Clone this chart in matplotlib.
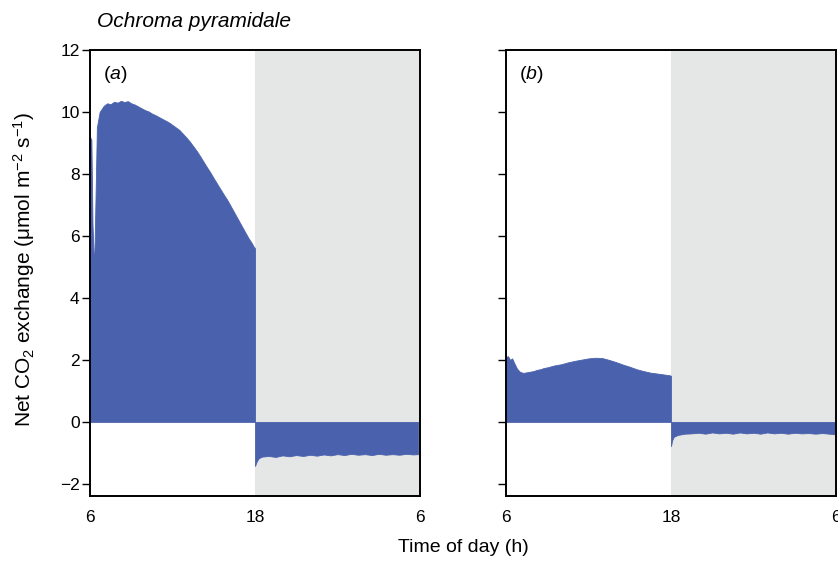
import numpy as np
import matplotlib
matplotlib.use("Agg")
import matplotlib.pyplot as plt

plt.rcParams["font.family"] = ["Liberation Sans", "DejaVu Sans"]
plt.rcParams["mathtext.fontset"] = "custom"
plt.rcParams["mathtext.rm"] = "Liberation Sans"
plt.rcParams["mathtext.it"] = "Liberation Sans:italic"

# ── data ──────────────────────────────────────────────────────────────────────
# panel (a): light period 06-18 h
a_day_h = [6.0, 6.1, 6.18, 6.3, 6.4, 6.5, 6.7, 7.0, 7.25, 7.5, 7.75, 8.0, 8.25,
           8.5, 8.75, 9.0, 9.25, 9.5, 9.75, 10.0, 10.25, 10.5, 10.75, 11.0,
           11.25, 11.5, 11.75, 12.0, 12.25, 12.5, 12.75, 13.0, 13.25, 13.5,
           13.75, 14.0, 14.25, 14.5, 14.75, 15.0, 15.25, 15.5, 15.75, 16.0,
           16.25, 16.5, 16.75, 17.0, 17.25, 17.5, 17.75, 17.9, 18.0]
a_day_v = [9.2, 9.1, 6.4, 4.9, 7.2, 9.5, 10.0, 10.2, 10.28, 10.25, 10.33, 10.3,
           10.36, 10.32, 10.35, 10.28, 10.24, 10.18, 10.12, 10.06, 10.02, 9.95,
           9.9, 9.84, 9.78, 9.72, 9.66, 9.58, 9.5, 9.42, 9.3, 9.18, 9.05, 8.9,
           8.75, 8.58, 8.4, 8.22, 8.05, 7.86, 7.68, 7.5, 7.32, 7.15, 6.95, 6.75,
           6.55, 6.35, 6.15, 5.95, 5.78, 5.66, 5.6]
# panel (a): dark period 18-06 h
a_night_h = [18.0, 18.1, 18.25, 18.5, 19.0, 19.5, 20.0, 20.5, 21.0, 21.5, 22.0,
             22.5, 23.0, 23.5, 24.0, 24.5, 25.0, 25.5, 26.0, 26.5, 27.0, 27.5,
             28.0, 28.5, 29.0, 29.5, 29.85]
a_night_v = [-1.42, -1.3, -1.18, -1.12, -1.1, -1.13, -1.08, -1.11, -1.07, -1.1,
             -1.06, -1.09, -1.05, -1.08, -1.04, -1.07, -1.03, -1.06, -1.04,
             -1.07, -1.03, -1.06, -1.04, -1.06, -1.03, -1.05, -1.04]

# panel (b)
b_day_h = [6.0, 6.15, 6.3, 6.45, 6.6, 6.8, 7.0, 7.25, 7.5, 7.75, 8.0, 8.25, 8.5,
           8.75, 9.0, 9.5, 10.0, 10.5, 11.0, 11.5, 12.0, 12.5, 13.0, 13.5, 14.0,
           14.5, 15.0, 15.5, 16.0, 16.5, 17.0, 17.5, 17.95, 18.0]
b_day_v = [2.1, 2.12, 2.0, 2.05, 1.9, 1.72, 1.62, 1.58, 1.6, 1.62, 1.64, 1.68,
           1.7, 1.74, 1.76, 1.82, 1.86, 1.92, 1.97, 2.01, 2.05, 2.07, 2.06, 2.0,
           1.93, 1.85, 1.78, 1.7, 1.64, 1.59, 1.56, 1.53, 1.5, 1.48]
b_night_h = [18.0, 18.08, 18.2, 18.5, 19.0, 19.5, 20.0, 20.5, 21.0, 21.5, 22.0,
             22.5, 23.0, 23.5, 24.0, 24.5, 25.0, 25.5, 26.0, 26.5, 27.0, 27.5,
             28.0, 28.5, 29.0, 29.5, 29.95]
b_night_v = [-0.78, -0.6, -0.48, -0.42, -0.38, -0.37, -0.35, -0.38, -0.34,
             -0.37, -0.35, -0.38, -0.34, -0.37, -0.35, -0.38, -0.34, -0.37,
             -0.35, -0.38, -0.35, -0.37, -0.36, -0.38, -0.36, -0.38, -0.4]

X_TICKS = [6, 18, 30]
X_TICKLABELS = ["6", "18", "6"]
Y_TICKS = [-2, 0, 2, 4, 6, 8, 10, 12]

BLUE = "#4a62ad"
GREY = "#e5e6e6"

# ── figure ────────────────────────────────────────────────────────────────────
fig = plt.figure(figsize=(8.38, 5.61), dpi=100)
ax_a = fig.add_axes([0.1074, 0.1159, 0.3938, 0.795])
ax_b = fig.add_axes([0.6038, 0.1159, 0.3938, 0.795])

panels = [
    (ax_a, a_day_h, a_day_v, a_night_h, a_night_v, r"($\mathit{a}$)"),
    (ax_b, b_day_h, b_day_v, b_night_h, b_night_v, r"($\mathit{b}$)"),
]
for ax, dh, dv, nh, nv, lab in panels:
    ax.axvspan(18, 30, color=GREY, lw=0, zorder=0)
    ax.fill_between(dh, 0, dv, color=BLUE, lw=0.6, edgecolor=BLUE, zorder=2)
    ax.fill_between(nh, 0, nv, color=BLUE, lw=0.6, edgecolor=BLUE, zorder=2)
    ax.set_xlim(6, 30)
    ax.set_ylim(-2.39, 12)
    ax.set_xticks(X_TICKS)
    ax.set_xticklabels(X_TICKLABELS)
    ax.set_yticks(Y_TICKS)
    ax.tick_params(axis="x", length=0, pad=10, labelsize=12.5)
    ax.tick_params(axis="y", length=6, width=1, pad=1.5, labelsize=12.5)
    for sp in ax.spines.values():
        sp.set_linewidth(1.4)
        sp.set_zorder(5)
    ax.text(0.04, 0.944, lab, transform=ax.transAxes, fontsize=14,
            ha="left", va="center")

ax_a.set_yticklabels([str(t).replace("-", "\u2212") for t in Y_TICKS])
ax_b.set_yticklabels([])

ax_a.set_ylabel(r"Net CO$_2$ exchange (μmol m$^{-2}$ s$^{-1}$)", fontsize=15)
ax_a.yaxis.set_label_coords(-0.16, 0.507)

fig.text(0.5525, 0.024, "Time of day (h)", ha="center", va="center", fontsize=14)
fig.text(0.1158, 0.961, "Ochroma pyramidale", ha="left", va="center",
         fontsize=15, style="italic")

plt.savefig("out.png", dpi=100)
